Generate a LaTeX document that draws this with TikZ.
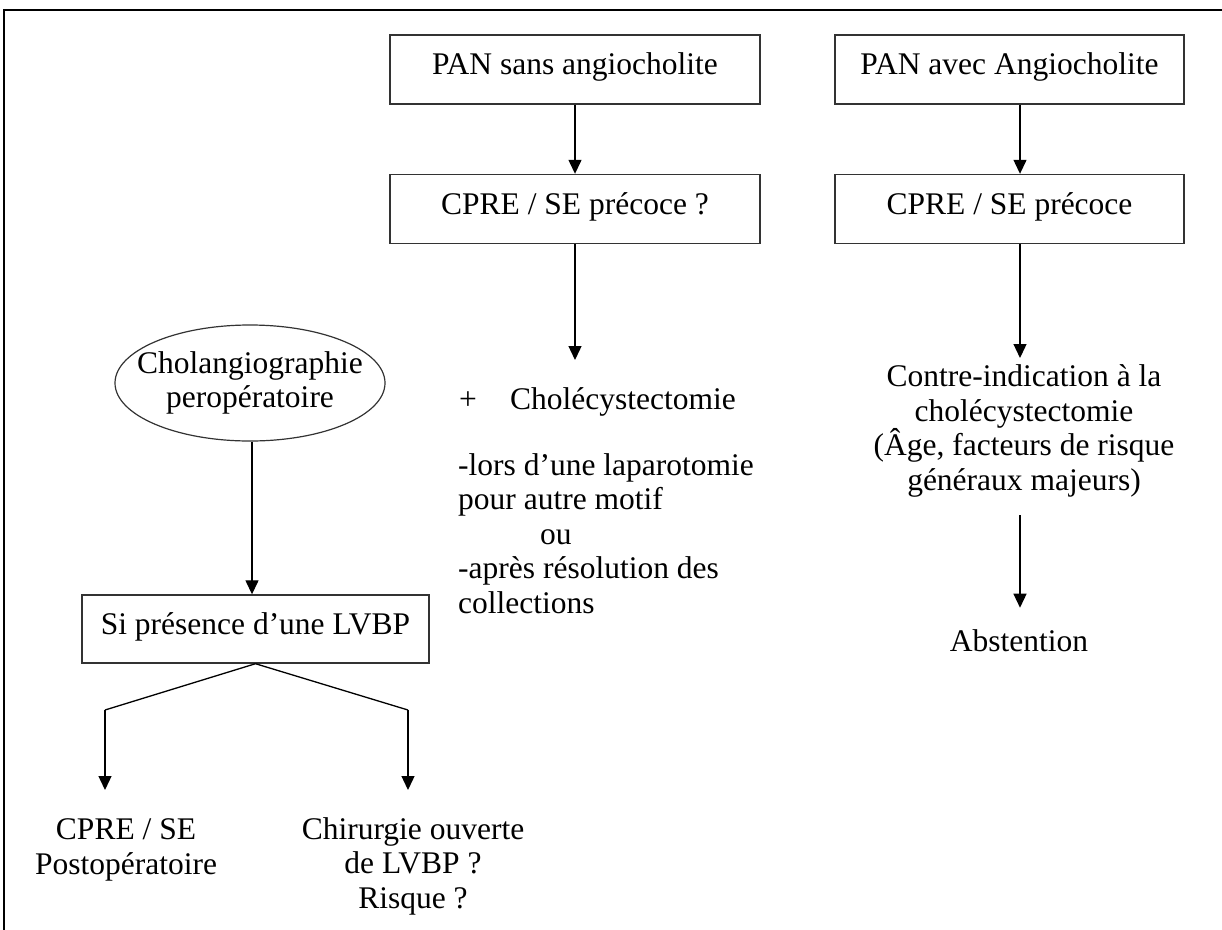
\documentclass[tikz,border=0pt]{standalone}
\usepackage{fontspec}
\setmainfont{Liberation Serif}
\usetikzlibrary{shapes.geometric,arrows.meta}
\begin{document}
\begin{tikzpicture}[x=1pt,y=-1pt,
  txt/.style={font=\fontsize{31.5}{34.5}\selectfont, inner sep=0pt, align=center},
  boxnode/.style={txt, draw=black!80, line width=1.4pt, minimum width=370pt, minimum height=69pt, text height=22pt, text depth=12pt},
  arr/.style={line width=1.3pt, -{Triangle[width=13pt,length=14pt]}},
  ln/.style={line width=1.3pt}]
\useasboundingbox (0,0) rectangle (1222,929);
\clip (0,0) rectangle (1222,929);
\draw[line width=2.5pt] (4,1000) -- (4,10) -- (1300,10);

% top boxes
\node[boxnode] (pan1) at (575,69.5) {PAN sans angiocholite};
\node[boxnode, minimum width=349pt] (pan2) at (1009.5,69.5) {PAN avec Angiocholite};
\node[boxnode] (cpre1) at (575,209) {CPRE / SE précoce ?};
\node[boxnode, minimum width=349pt] (cpre2) at (1009.5,209) {CPRE / SE précoce};
\draw[arr] (pan1) -- (cpre1);
\draw[arr] ([xshift=10.5pt]pan2.south) -- ([xshift=10.5pt]cpre2.north);

% middle column
\coordinate (c1) at (575,360);
\draw[arr] (cpre1.south) -- (c1);
\node[txt] (plus) at (468,401) {+};
\node[txt, anchor=west] (chole) at (510,402) {Cholécystectomie};
\node[txt, anchor=north west, align=left] (cond) at (458,453) {-lors d’une laparotomie\\pour autre motif\\\hspace*{82pt}ou\\-après résolution des\\collections};

% right column
\node[txt] (ci) at (1024,431) {Contre-indication à la\\cholécystectomie\\(Âge, facteurs de risque\\généraux majeurs)};
\node[txt] (abst) at (1019,641) {Abstention};
\coordinate (c2) at (1020,358);
\draw[arr] ([xshift=10.5pt]cpre2.south) -- (c2);
\draw[arr, shorten <=18pt, shorten >=22pt] (ci.south -| c2) -- (abst.north -| c2);

% left column
\node[draw=black!80, ellipse, line width=1.2pt, inner sep=0pt, minimum width=270pt, minimum height=116pt] (chol) at (250,383) {};
\node[txt] (cholt) at (chol.center) {Cholangiographie\\peropératoire};
\node[boxnode, minimum width=347pt, minimum height=68pt] (lvbp) at (255.5,629) {Si présence d’une LVBP};
\draw[arr] ([xshift=2pt]chol.south) -- ([xshift=2pt]chol.south |- lvbp.north);

\coordinate (bl) at (105,710);
\coordinate (br) at (408,710);
\coordinate (ble) at (105,790);
\coordinate (bre) at (408,790);
\draw[ln] (lvbp.south) -- (bl);
\draw[ln] (lvbp.south) -- (br);
\draw[arr] (bl) -- (ble);
\draw[arr] (br) -- (bre);
\node[txt] (cpreb) at (126,850) {CPRE / SE\\Postopératoire};
\node[txt] (chir) at (413,866) {Chirurgie ouverte\\de LVBP ?\\Risque ?};
\end{tikzpicture}
\end{document}
